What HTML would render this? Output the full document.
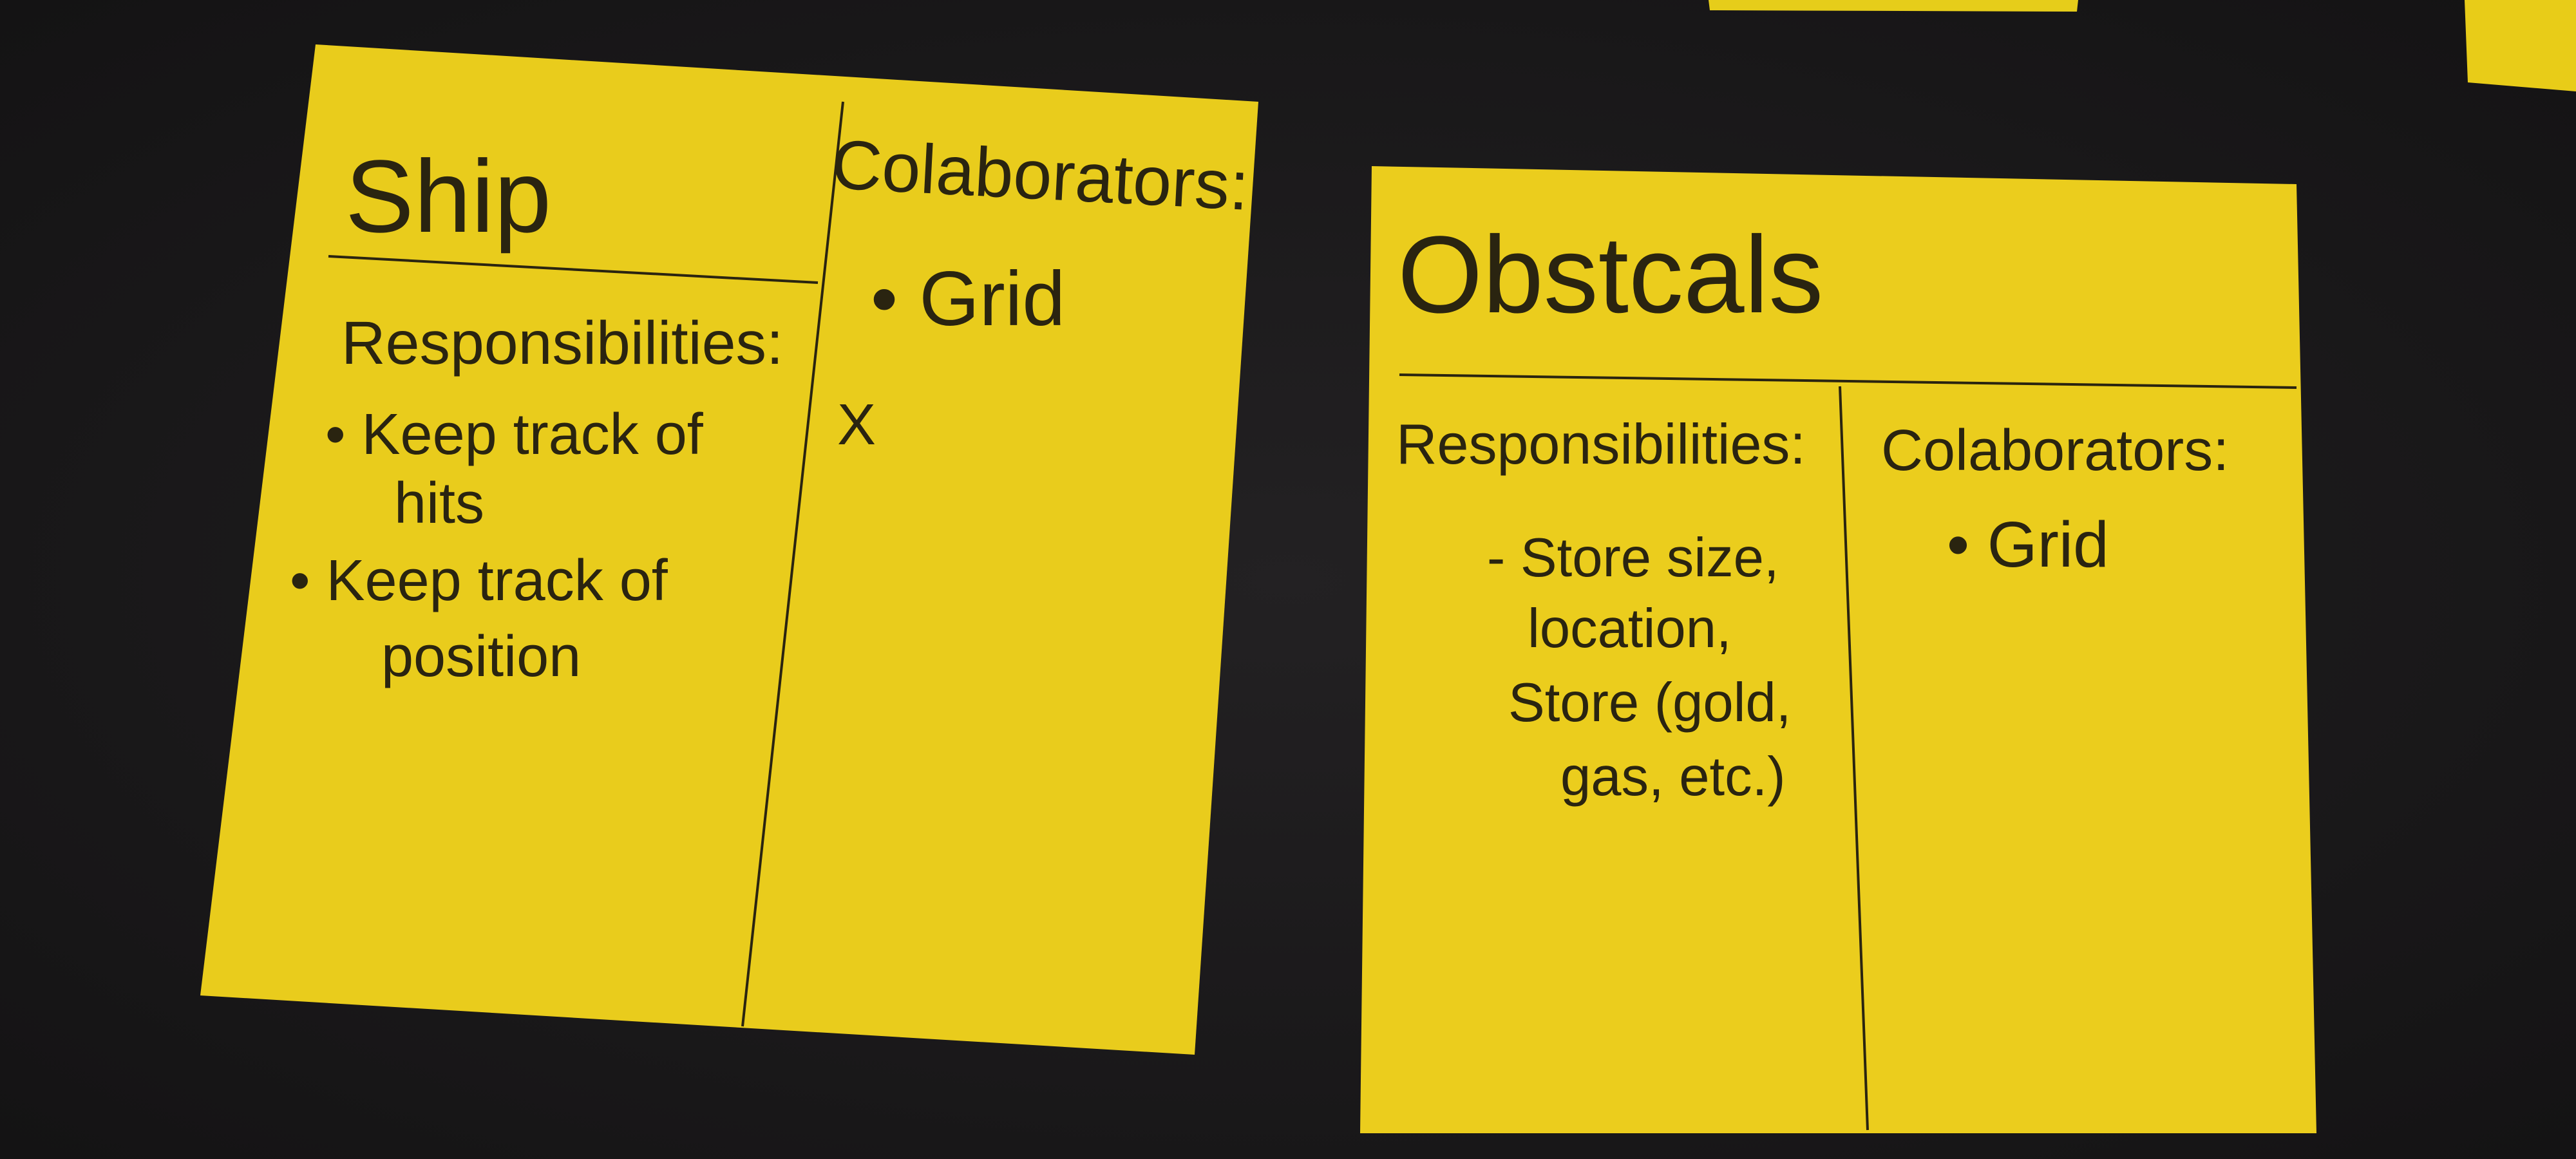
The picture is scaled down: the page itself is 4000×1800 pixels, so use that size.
<!DOCTYPE html>
<html><head><meta charset="utf-8"><style>
html,body{margin:0;padding:0;background:#1b1a1c;}
svg{display:block;}
text{font-family:"Liberation Sans",sans-serif;fill:#2a2410;}
</style></head><body>
<svg width="4000" height="1800" viewBox="0 0 4000 1800" xmlns="http://www.w3.org/2000/svg">
<defs>
<radialGradient id="bg" cx="50%" cy="50%" r="70%">
<stop offset="0" stop-color="#232123"/><stop offset="1" stop-color="#141314"/>
</radialGradient>
</defs>
<rect width="4000" height="1800" fill="url(#bg)"/>
<polygon points="2653,0 3227,0 3225,18 2655,16" fill="#e6cd1a"/>
<polygon points="3827,0 4000,0 4000,142 3832,128" fill="#e8cc18"/>
<!-- left note -->
<polygon points="490,69 1954,158 1855,1638 311,1546" fill="#e9cc1c"/>
<g stroke="#2a2410" stroke-width="4" fill="none">
<line x1="510" y1="398" x2="1270" y2="439"/>
<line x1="1309" y1="158" x2="1153" y2="1594"/>
</g>
<text x="536" y="360" font-size="160">Ship</text>
<g transform="rotate(3 1290 290)"><text x="1290" y="292" font-size="108">Colaborators:</text></g>
<text x="1352" y="505" font-size="120">• Grid</text>
<text x="1300" y="690" font-size="90">X</text>
<text x="530" y="565" font-size="95">Responsibilities:</text>
<text x="505" y="705" font-size="90">• Keep track of</text>
<text x="612" y="812" font-size="90">hits</text>
<text x="450" y="932" font-size="90">• Keep track of</text>
<text x="592" y="1050" font-size="90">position</text>
<!-- right note -->
<polygon points="2130,258 3566,286 3597,1760 2112,1760" fill="#ebcd1d"/>
<g stroke="#2a2410" stroke-width="4" fill="none">
<line x1="2173" y1="582" x2="3566" y2="602"/>
<line x1="2857" y1="600" x2="2900" y2="1755"/>
</g>
<text x="2170" y="485" font-size="170">Obstcals</text>
<text x="2168" y="720" font-size="88">Responsibilities:</text>
<text x="2921" y="730" font-size="90">Colaborators:</text>
<text x="3023" y="880" font-size="100">• Grid</text>
<text x="2309" y="895" font-size="85">- Store size,</text>
<text x="2372" y="1005" font-size="85">location,</text>
<text x="2342" y="1120" font-size="85">Store (gold,</text>
<text x="2423" y="1235" font-size="85">gas, etc.)</text>
</svg>
</body></html>
